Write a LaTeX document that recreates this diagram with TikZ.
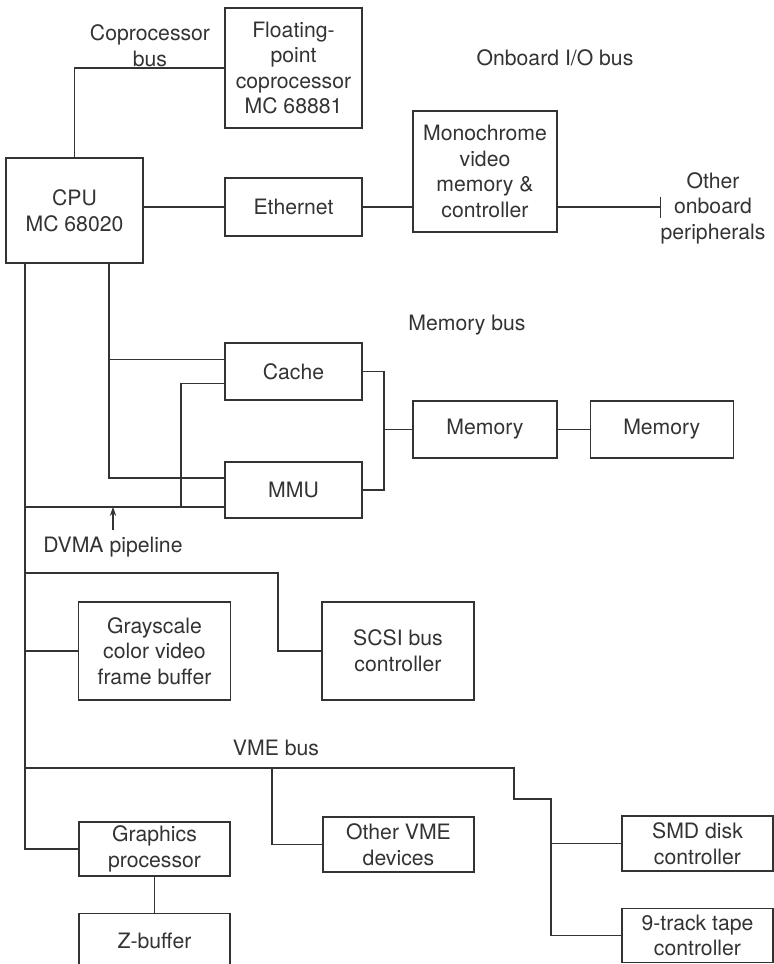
\documentclass[tikz,border=0pt]{standalone}
\usepackage{fontspec}
\setmainfont{TeX Gyre Heros}
\usetikzlibrary{arrows.meta,positioning}
\definecolor{inkgray}{HTML}{333333}

\begin{document}
\begin{tikzpicture}[x=0.5pt, y=-0.5pt, >={Stealth[length=4.5pt,width=3.2pt]}, font=\fontsize{10.6pt}{12.8pt}\selectfont,
  every node/.style={text=inkgray},
  unit/.style={draw=inkgray, line width=0.65pt, align=center, inner sep=0pt},
  wire/.style={draw=inkgray, line width=0.65pt}]
  \useasboundingbox (0,0) rectangle (774,964);

  % boxes
  \node[unit, minimum width=68.5pt, minimum height=60pt] (fp) at (293.5,68) {Floating-\\point\\coprocessor\\MC 68881};
  \node[unit, minimum width=68.5pt, minimum height=52.5pt] (cpu) at (74.5,210.5) {CPU\\MC 68020};
  \node[unit, minimum width=68.5pt, minimum height=29pt] (eth) at (293.5,207) {Ethernet};
  \node[unit, minimum width=72pt, minimum height=60.5pt] (mono) at (485,171.5) {Monochrome\\video\\memory \&\\controller};
  \node[unit, minimum width=68.5pt, minimum height=28.5pt] (cache) at (293.5,371.5) {Cache};
  \node[unit, minimum width=68.5pt, minimum height=28pt] (mmu) at (293.5,490) {MMU};
  \node[unit, minimum width=72pt, minimum height=28.5pt] (mem1) at (485,429.5) {Memory};
  \node[unit, minimum width=71.5pt, minimum height=28.5pt, right=16pt of mem1] (mem2) {Memory};
  \node[unit, minimum width=76pt, minimum height=49pt] (gray) at (154.5,651) {Grayscale\\color video\\frame buffer};
  \node[unit, minimum width=76pt, minimum height=49pt] (scsi) at (398,651) {SCSI bus\\controller};
  \node[unit, minimum width=75.5pt, minimum height=27.5pt] (ovme) at (398.5,844.5) {Other VME\\devices};
  \node[unit, minimum width=75.5pt, minimum height=27pt] (gp) at (154.5,849) {Graphics\\processor};
  \node[unit, minimum width=75.5pt, minimum height=28pt, below=18pt of gp] (zbuf) {Z-buffer};
  \node[unit, minimum width=75.5pt, minimum height=27.5pt] (smd) at (697.5,843.5) {SMD disk\\controller};
  \node[unit, minimum width=75.5pt, minimum height=27pt, below=18pt of smd] (tape) {9-track tape\\controller};

  % bus labels
  \node[align=center] (copbus) at (150,46) {Coprocessor\\bus};
  \node (iobus) at (555,58) {Onboard I/O bus};
  \node[align=center] (otherp) at (713,208) {Other\\onboard\\peripherals};
  \node (membus) at (467,325) {Memory bus};
  \node (dvma) at (113,547) {DVMA pipeline};
  \node (vmebus) at (276,748) {VME bus};

  % junction points
  \coordinate (vx) at (25,0);
  \coordinate (cx) at (109,0);
  \coordinate (dx) at (181,0);
  \coordinate (mx) at (384,0);
  \coordinate (ox) at (272,0);
  \coordinate (ioend) at (661,207);
  \coordinate (s1) at (278,573);
  \coordinate (v1) at (514,768);
  \coordinate (v2) at (551,799);
  \coordinate (c1) at ([yshift=6pt]cache.west);
  \coordinate (c2) at ([yshift=-6pt]cache.west);
  \coordinate (m1) at ([yshift=6pt]mmu.west);
  \coordinate (m2) at ([yshift=-8.5pt]mmu.west);

  % coprocessor and onboard I/O bus
  \draw[wire] (cpu.north) |- (fp.west);
  \draw[wire] (cpu.east |- eth) -- (eth.west);
  \draw[wire] (eth.east) -- (eth.east -| mono.west);
  \draw[wire, -{Bar[width=10.5pt]}] (mono.east |- eth) -- (ioend);

  % memory bus
  \draw[wire] (cpu.south -| cx) |- (m1);
  \draw[wire] (c1) -- (c1 -| cx);
  \draw[wire] (cache.east) -- (cache.east -| mx) |- (mmu.east);
  \draw[wire] (mem1.west -| mx) -- (mem1.west);
  \draw[wire] (mem1) -- (mem2);

  % DVMA and system bus
  \draw[wire] (cpu.south -| vx) |- (gp.west);
  \draw[wire] (m2 -| vx) -- (m2);
  \draw[wire] (m2 -| dx) |- (c2);
  \draw[wire, ->] (dvma.north) -- (dvma.north |- m2);
  \draw[wire] (s1 -| vx) -- (s1) |- (scsi.west);
  \draw[wire] (gray.west -| vx) -- (gray.west);

  % VME bus
  \draw[wire] (v1 -| vx) -- (v1) |- (v2) |- (tape.west);
  \draw[wire] (smd.west -| v2) -- (smd.west);
  \draw[wire] (v1 -| ox) |- (ovme.west);
  \draw[wire] (gp) -- (zbuf);
\end{tikzpicture}
\end{document}
